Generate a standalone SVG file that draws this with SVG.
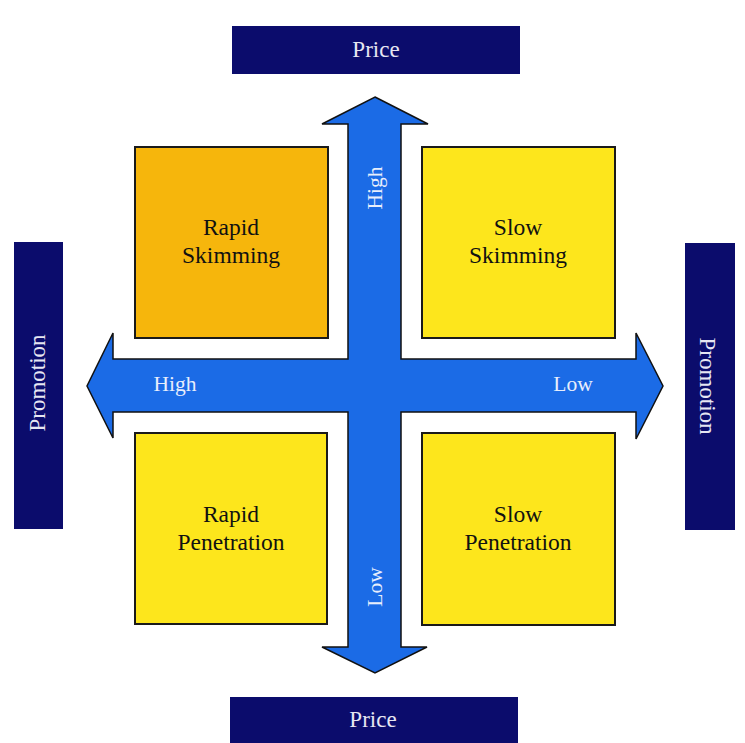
<svg xmlns="http://www.w3.org/2000/svg" width="745" height="743" viewBox="0 0 745 743">
  <style>
    .axis { fill: #0b0c6c; }
    .axis-label { font-family: "Liberation Serif", "Times New Roman", serif; font-size: 23px; fill: #e6e6f2; text-anchor: middle; }
    .quad { stroke: #1a1a1a; stroke-width: 2; }
    .quad-label { font-family: "Liberation Serif", "Times New Roman", serif; font-size: 23.5px; fill: #111; text-anchor: middle; }
    .arrow { fill: #1b6be6; stroke: #111; stroke-width: 1.5; stroke-linejoin: miter; }
    .arrow-label { font-family: "Liberation Serif", "Times New Roman", serif; font-size: 21.5px; fill: #e8eefc; text-anchor: middle; }
  </style>
  <rect width="745" height="743" fill="#ffffff"/>

  <!-- axis title bars -->
  <g id="price-top">
    <rect class="axis" x="232" y="26" width="288" height="48"/>
    <text class="axis-label" x="376" y="57">Price</text>
  </g>
  <g id="price-bottom">
    <rect class="axis" x="230" y="697" width="288" height="46"/>
    <text class="axis-label" x="373" y="727">Price</text>
  </g>
  <g id="promotion-left">
    <rect class="axis" x="14" y="242" width="49" height="287"/>
    <text class="axis-label" transform="translate(45 383) rotate(-90)">Promotion</text>
  </g>
  <g id="promotion-right">
    <rect class="axis" x="685" y="243" width="50" height="287"/>
    <text class="axis-label" transform="translate(700 386) rotate(90)">Promotion</text>
  </g>

  <!-- crossing double-headed arrows -->
  <g id="connectors">
    <polygon class="arrow" points="375,97 428,124 401,124 401,359 636,359 636,333 663,386 636,439 636,412 401,412 401,647 427,647 375,673 322,647 348,647 348,412 113,412 113,438 87,386 113,333 113,359 348,359 348,124 322,124"/>
    <text class="arrow-label" x="175" y="391">High</text>
    <text class="arrow-label" x="573" y="391">Low</text>
    <text class="arrow-label" transform="translate(382 188) rotate(-90)">High</text>
    <text class="arrow-label" transform="translate(382 587) rotate(-90)">Low</text>
  </g>

  <!-- strategy quadrants -->
  <g id="rapid-skimming">
    <rect class="quad" x="135" y="147" width="193" height="191" fill="#f6b60c"/>
    <text class="quad-label" x="231" y="235">Rapid</text>
    <text class="quad-label" x="231" y="263">Skimming</text>
  </g>
  <g id="slow-skimming">
    <rect class="quad" x="422" y="147" width="193" height="191" fill="#fde61c"/>
    <text class="quad-label" x="518" y="235">Slow</text>
    <text class="quad-label" x="518" y="263">Skimming</text>
  </g>
  <g id="rapid-penetration">
    <rect class="quad" x="135" y="433" width="192" height="191" fill="#fde61c"/>
    <text class="quad-label" x="231" y="522">Rapid</text>
    <text class="quad-label" x="231" y="550">Penetration</text>
  </g>
  <g id="slow-penetration">
    <rect class="quad" x="422" y="433" width="193" height="192" fill="#fde61c"/>
    <text class="quad-label" x="518" y="522">Slow</text>
    <text class="quad-label" x="518" y="550">Penetration</text>
  </g>
</svg>
